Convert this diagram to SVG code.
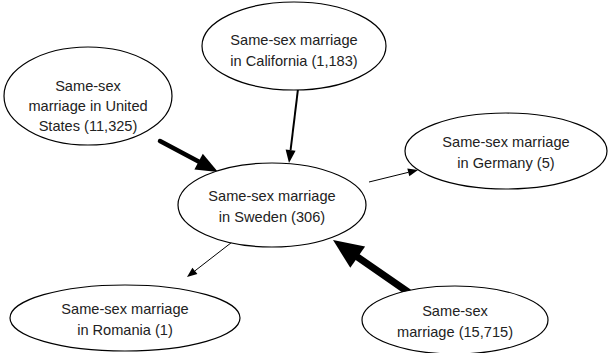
<svg xmlns="http://www.w3.org/2000/svg" width="608" height="353" viewBox="0 0 608 353">
<style>
.n ellipse{fill:#fff;stroke:#000;stroke-width:1.2}
.n text{font-family:"Liberation Sans",Arial,sans-serif;font-size:14.6px;fill:#222;text-anchor:middle}
.e line{stroke:#000;fill:none}
.e polygon{fill:#000;stroke:none}
</style>
<rect width="608" height="353" fill="#fff"/>
<g class="e" id="connectors">
<line x1="160" y1="141" x2="199" y2="161.8" stroke-width="4.5" stroke-linecap="round"/>
<polygon points="218,172 194.4,169.5 202.8,153.7"/>
<line x1="298" y1="89" x2="290.6" y2="150" stroke-width="2"/>
<polygon points="289,163 285.6,149.5 295.6,150.7"/>
<line x1="369" y1="182" x2="408.5" y2="172.3" stroke-width="1"/>
<polygon points="418,170 409.3,176.3 407.3,168.5"/>
<line x1="236" y1="239" x2="195" y2="270.8" stroke-width="1"/>
<polygon points="187,277 192.4,267.7 197.4,274.1"/>
<line x1="408" y1="292" x2="358" y2="257.3" stroke-width="7" stroke-linecap="round"/>
<polygon points="333,240 365.1,246.4 350.3,267.8"/>
</g>
<g class="n" id="n-us">
<ellipse cx="88" cy="96" rx="84" ry="49"/>
<text x="88" y="91">Same-sex</text>
<text x="88" y="111">marriage in United</text>
<text x="88" y="131">States (11,325)</text>
</g>
<g class="n" id="n-california">
<ellipse cx="294" cy="46" rx="92" ry="44"/>
<text x="294" y="45">Same-sex marriage</text>
<text x="294" y="66">in California (1,183)</text>
</g>
<g class="n" id="n-sweden">
<ellipse cx="272" cy="205" rx="94" ry="42"/>
<text x="272" y="201">Same-sex marriage</text>
<text x="272" y="222">in Sweden (306)</text>
</g>
<g class="n" id="n-germany">
<ellipse cx="506" cy="151" rx="101" ry="38"/>
<text x="506" y="147">Same-sex marriage</text>
<text x="506" y="168">in Germany (5)</text>
</g>
<g class="n" id="n-romania">
<ellipse cx="125" cy="318" rx="115" ry="33"/>
<text x="125" y="314">Same-sex marriage</text>
<text x="125" y="335">in Romania (1)</text>
</g>
<g class="n" id="n-ssm">
<ellipse cx="455" cy="320" rx="93" ry="34"/>
<text x="455" y="316">Same-sex</text>
<text x="455" y="337">marriage (15,715)</text>
</g>
</svg>
